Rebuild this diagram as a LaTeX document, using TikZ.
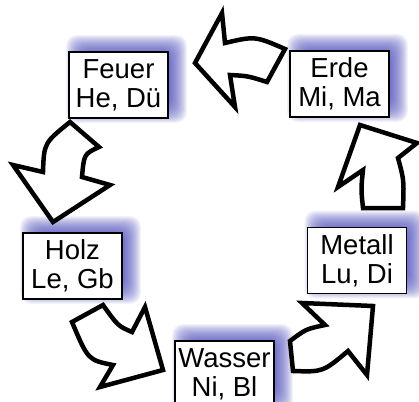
\documentclass[tikz,border=0pt]{standalone}
\usepackage{fontspec}
\setmainfont{Liberation Sans}
\usetikzlibrary{backgrounds,calc}
\definecolor{glowblue}{RGB}{60,60,180}
\tikzset{
  elem/.style={draw, fill=white, line width=1.6pt, minimum width=99pt, minimum height=66pt,
    inner sep=0pt, align=center, font=\fontsize{27.5}{29}\selectfont},
  pfeil/.style={draw, fill=white, line width=4.5pt, line join=miter}
}
\newcommand\glow[1]{%
  \begin{scope}[on background layer]
    \foreach \e in {0,...,20}
      \fill[glowblue, opacity=0.065, rounded corners=10pt]
        ($(#1.south west)+(\e-2,4-\e)$) rectangle ($(#1.north east)+(18-\e,\e-16)$);
  \end{scope}}
\begin{document}
\begin{tikzpicture}[x=1pt, y=-1pt]
\useasboundingbox (0,0) rectangle (419,401);
\node[elem] (feuer) at (118.5,85) {Feuer\\He, Dü};
\node[elem] (erde) at (339.5,84) {Erde\\Mi, Ma};
\node[elem] (metall) at (357,260.5) {Metall\\Lu, Di};
\node[elem] (wasser) at (224.5,374) {Wasser\\Ni, Bl};
\node[elem] (holz) at (72.5,266) {Holz\\Le, Gb};
\glow{feuer}
\glow{erde}
\glow{metall}
\glow{wasser}
\glow{holz}
% Wasser -> Metall
\draw[pfeil] (290,341) .. controls (306,329) .. (325,325) -- (302,303) -- (373,306) -- (367,375)
  -- (348,351) .. controls (323,372) .. (293,371) -- cycle;
% Metall -> Erde
\draw[pfeil] (363,208) .. controls (361,189) .. (363,170) -- (338,187) -- (360,125) -- (417,143)
  -- (398,158) .. controls (404,180) .. (403,208) -- cycle;
% Erde -> Feuer
\draw[pfeil] (285,49) .. controls (255,36) .. (225,43) -- (222,13) -- (195,63) -- (235,107)
  -- (230,75) .. controls (248,76) .. (267,82) -- cycle;
% Feuer -> Holz
\draw[pfeil] (70,122) .. controls (44,143) .. (43,172) -- (13,165) -- (53,222) -- (110,185)
  -- (82,177) .. controls (84,154) .. (99,147) -- cycle;
% Holz -> Wasser
\draw[pfeil] (132,332) .. controls (118,326) .. (103,305) -- (72,322) .. controls (88,360) .. (113,365)
  -- (100,387) -- (163,370) -- (145,307) -- cycle;
\end{tikzpicture}
\end{document}
